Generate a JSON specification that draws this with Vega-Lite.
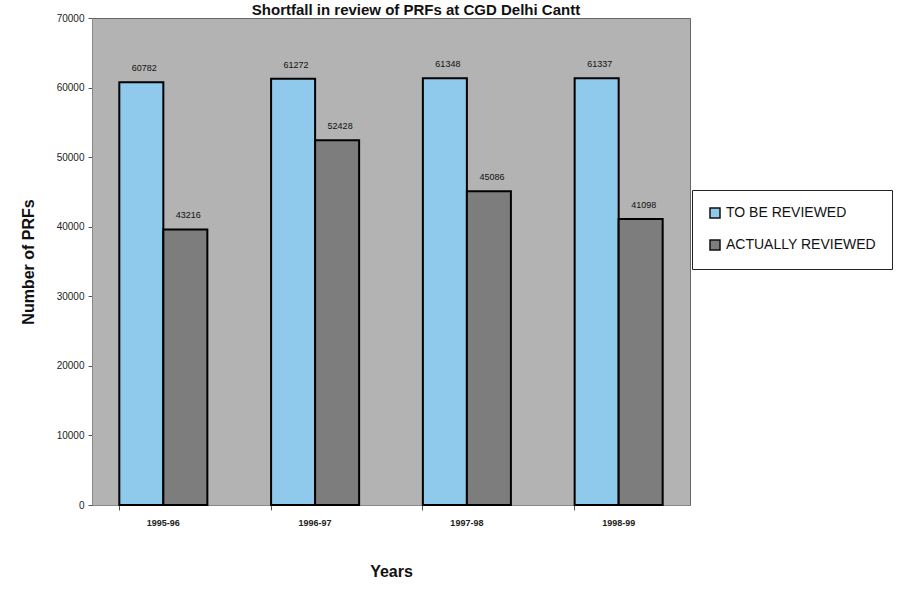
{
  "$schema": "https://vega.github.io/schema/vega-lite/v6.json",
  "width": 598,
  "height": 487,
  "autosize": {"type": "none"},
  "padding": {"left": 92, "top": 18, "right": 229, "bottom": 84},
  "background": "white",
  "title": {"text": "Shortfall in review of PRFs at CGD Delhi Cantt", "font": "Liberation Sans", "fontSize": 15, "fontWeight": "bold", "color": "#111", "anchor": "middle", "offset": 0, "dy": 17, "dx": 25, "baseline": "alphabetic"},
  "config": {
    "font": "Liberation Sans",
    "view": {"fill": "#b3b3b3", "stroke": "#666", "strokeWidth": 1}
  },
  "data": {"values": [
    {"year": "1995-96", "series": "TO BE REVIEWED", "value": 60782, "label": "60782"},
    {"year": "1995-96", "series": "ACTUALLY REVIEWED", "value": 39600, "label": "43216"},
    {"year": "1996-97", "series": "TO BE REVIEWED", "value": 61272, "label": "61272"},
    {"year": "1996-97", "series": "ACTUALLY REVIEWED", "value": 52428, "label": "52428"},
    {"year": "1997-98", "series": "TO BE REVIEWED", "value": 61348, "label": "61348"},
    {"year": "1997-98", "series": "ACTUALLY REVIEWED", "value": 45086, "label": "45086"},
    {"year": "1998-99", "series": "TO BE REVIEWED", "value": 61337, "label": "61337"},
    {"year": "1998-99", "series": "ACTUALLY REVIEWED", "value": 41098, "label": "41098"}
  ]},
  "encoding": {
    "x": {"field": "year", "type": "nominal", "sort": null,
      "scale": {"paddingInner": 0.42, "paddingOuter": 0.18},
      "axis": {"title": "Years", "titleFontSize": 16, "titleFontWeight": "bold", "titleColor": "#111", "titlePadding": 36,
        "labelAngle": 0, "labelFontSize": 9, "labelFontWeight": "bold", "labelColor": "#222", "labelPadding": 8,
        "bandPosition": 0, "tickColor": "#555", "tickSize": 5, "domainColor": "#888"}},
    "xOffset": {"field": "series", "type": "nominal", "sort": ["TO BE REVIEWED", "ACTUALLY REVIEWED"]},
    "y": {"field": "value", "type": "quantitative",
      "scale": {"domain": [0, 70000], "nice": false},
      "axis": {"title": "Number of PRFs", "titleFontSize": 16, "titleFontWeight": "bold", "titleColor": "#111", "titlePadding": 20,
        "values": [0, 10000, 20000, 30000, 40000, 50000, 60000, 70000], "format": "d",
        "labelFontSize": 10, "labelColor": "#222", "grid": false, "labelPadding": 4,
        "tickColor": "#555", "tickSize": 4, "domainColor": "#888"}}
  },
  "layer": [
    {
      "mark": {"type": "bar", "stroke": "black", "strokeWidth": 2},
      "encoding": {
        "color": {"field": "series", "type": "nominal", "sort": ["TO BE REVIEWED", "ACTUALLY REVIEWED"],
          "scale": {"domain": ["TO BE REVIEWED", "ACTUALLY REVIEWED"], "range": ["#8fc9ec", "#7d7d7d"]},
          "legend": {"title": null, "orient": "none", "legendX": 600, "legendY": 172,
            "symbolType": "square", "symbolSize": 100, "symbolStrokeColor": "#111", "symbolStrokeWidth": 1.5,
            "labelFontSize": 14, "labelColor": "#111", "labelFont": "Liberation Sans",
            "fillColor": "white", "strokeColor": "#222", "padding": 16, "rowPadding": 16, "labelLimit": 300}}
      }
    },
    {
      "mark": {"type": "text", "fontSize": 9, "color": "#111", "dy": -14, "dx": 3},
      "encoding": {"text": {"field": "label"}}
    }
  ]
}
